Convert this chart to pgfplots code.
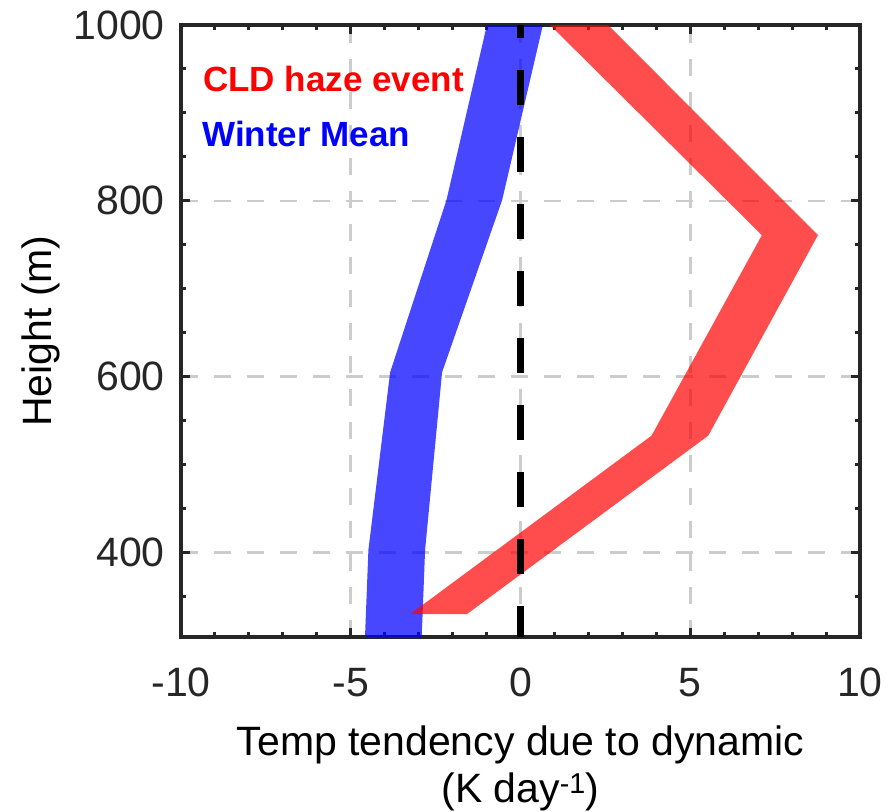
\documentclass[border=0pt]{standalone}
\usepackage{pgfplots}
\pgfplotsset{compat=1.18}
\usepackage{fontspec}
\setmainfont{Liberation Sans}
\definecolor{axgray}{RGB}{38,38,38}

\begin{document}
\begin{tikzpicture}
\begin{axis}[
    width=679pt, height=612pt, scale only axis,
    xmin=-10, xmax=10, ymin=304, ymax=1000,
    xtick={-10,-5,0,5,10},
    xticklabels={-10,-5,0,5,10},
    minor xtick={-9,-8,-7,-6,-4,-3,-2,-1,1,2,3,4,6,7,8,9},
    ytick={400,600,800,1000},
    yticklabels={400,600,800,1000},
    minor ytick={350,450,500,550,650,700,750,850,900,950},
    tick align=inside,
    major tick length=9pt, minor tick length=5pt,
    tick style={axgray, line width=3pt},
    axis line style={axgray, line width=3.5pt},
    grid=major,
    major grid style={gray!40, line width=2.5pt, dash pattern=on 17pt off 16pt},
    ticklabel style={font=\fontsize{41}{41}\selectfont, text=axgray, inner sep=0pt},
    xticklabel shift=31pt,
    yticklabel shift=16pt,
    xticklabel style={anchor=north},
    yticklabel style={anchor=east},
    xlabel={Temp tendency due to dynamic\\(K day\textsuperscript{-1})},
    xlabel style={font=\fontsize{41}{47}\selectfont, align=center, inner sep=0pt,
        at={(axis description cs:0.5,-0.145)}, anchor=north},
    ylabel={Height (m)},
    ylabel style={font=\fontsize{41}{41}\selectfont, inner sep=0pt,
        at={(axis description cs:-0.178,0.5)}, anchor=south},
]
% winter mean band
\addplot[draw=none, fill=blue, fill opacity=0.72] coordinates {
    (-0.99,1000) (-2.18,801) (-3.84,605) (-4.48,403) (-4.58,304)
    (-2.91,304) (-2.81,403) (-2.31,605) (-0.54,801) (0.66,1000)
} -- cycle;
% CLD haze event band
\addplot[draw=none, fill=red, fill opacity=0.7] coordinates {
    (0.87,1000) (7.11,761) (3.86,533) (-3.25,330)
    (-1.58,330) (5.53,533) (8.76,761) (2.58,1000)
} -- cycle;
% zero line
\addplot[black, line width=6.5pt, dash pattern=on 35pt off 32pt, dash phase=22pt]
    coordinates {(0,1000) (0,304)};

\node[anchor=base west, inner sep=0pt, text=red, font=\fontsize{35}{35}\selectfont\bfseries]
    at (axis cs:-9.35,924) {CLD haze event};
\node[anchor=base west, inner sep=0pt, text=blue, font=\fontsize{35}{35}\selectfont\bfseries]
    at (axis cs:-9.38,862) {Winter Mean};
\end{axis}
\pgfresetboundingbox
\useasboundingbox (current axis.south west) ++(-181pt,-174pt) rectangle ++(888pt,811pt);
\end{tikzpicture}
\end{document}
